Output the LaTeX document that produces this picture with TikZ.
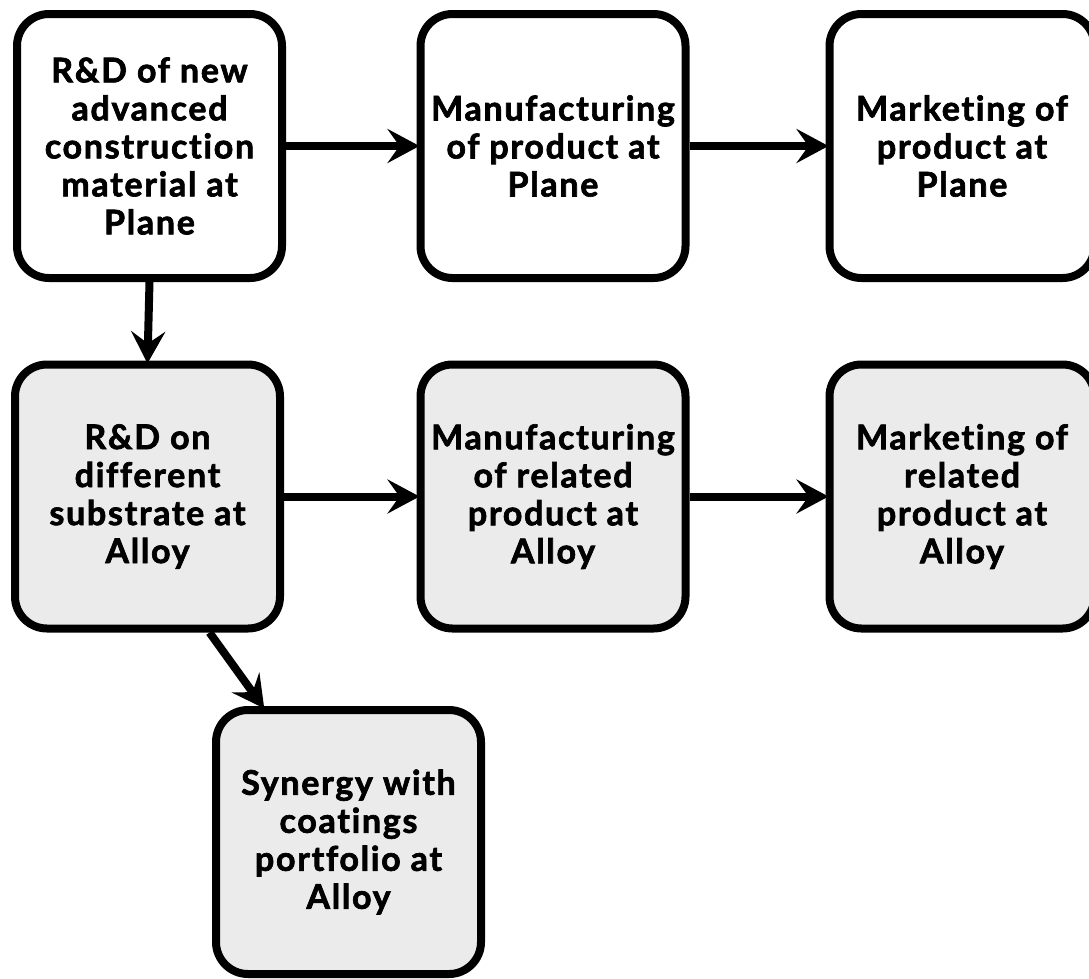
\documentclass[tikz,border=0pt]{standalone}
\usepackage{fontspec}
\setmainfont{Lato}[RawFeature=-liga, LetterSpace=5, BoldFeatures={FakeBold=2}]
\usetikzlibrary{arrows.meta}
\definecolor{boxgray}{RGB}{235,235,235}
\begin{document}
\begin{tikzpicture}[x=1pt,y=-1pt,
  box/.style={draw=black, line width=8pt, rounded corners=32pt, minimum width=265pt, minimum height=264pt, align=center, inner sep=0pt, font=\fontsize{34}{38}\selectfont\bfseries, fill=white},
  gbox/.style={box, fill=boxgray},
  conn/.style={line width=8pt, -{Stealth[length=32pt,width=34pt,inset=12pt]}, shorten >=-3pt}
]
\useasboundingbox (0,0) rectangle (1089,978);
\node[box]  (b1) at (149.5,146) {R\&D of new\\advanced\\construction\\material at\\Plane};
\node[box]  (b2) at (553,146) {Manufacturing\\of product at\\Plane};
\node[box]  (b3) at (962,146) {Marketing of\\product at\\Plane};
\node[gbox] (b4) at (147.5,496.5) {R\&D on\\different\\substrate at\\Alloy};
\node[gbox] (b5) at (553,496.5) {Manufacturing\\of related\\product at\\Alloy};
\node[gbox] (b6) at (962,496.5) {Marketing of\\related\\product at\\Alloy};
\node[gbox] (b7) at (348.5,842) {Synergy with\\coatings\\portfolio at\\Alloy};
\draw[conn] (b1) -- (b2);
\draw[conn] (b2) -- (b3);
\draw[conn] (b4) -- (b5);
\draw[conn] (b5) -- (b6);
\draw[conn] (b1.south) -- (b4.north);
\draw[conn] ([xshift=62pt]b4.south) -- ([xshift=-86pt]b7.north);
\end{tikzpicture}
\end{document}
